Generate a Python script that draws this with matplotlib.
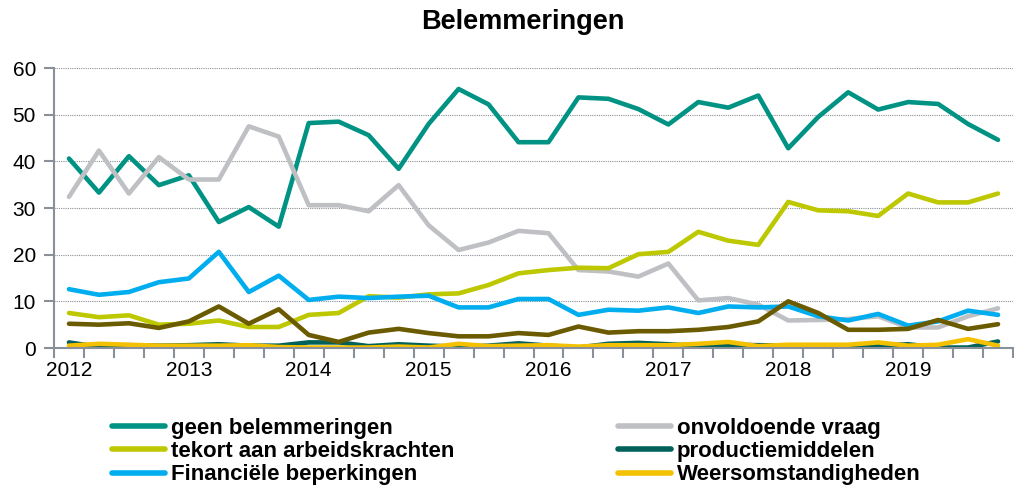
import matplotlib
matplotlib.use("Agg")
import matplotlib.pyplot as plt
import numpy as np

plt.rcParams['font.family'] = ['Liberation Sans', 'DejaVu Sans']

# quarterly values 2012 Q1 .. 2019 Q4
years = ['2012', '2013', '2014', '2015', '2016', '2017', '2018', '2019']

geen = [40.6, 33.3, 41.1, 34.9, 37.0, 27.0, 30.2, 26.0, 48.2, 48.5, 45.6,
        38.4, 48.0, 55.5, 52.2, 44.1, 44.1, 53.7, 53.4, 51.2, 47.9, 52.7,
        51.5, 54.1, 42.8, 49.5, 54.8, 51.1, 52.7, 52.3, 48.0, 44.6]
vraag = [32.4, 42.3, 33.1, 40.9, 36.1, 36.1, 47.5, 45.3, 30.6, 30.6, 29.3,
         34.9, 26.3, 21.0, 22.6, 25.1, 24.6, 16.7, 16.4, 15.3, 18.1, 10.2,
         10.7, 9.3, 5.9, 6.0, 6.2, 6.8, 4.4, 4.4, 6.8, 8.5]
tekort = [7.5, 6.6, 7.0, 5.0, 5.2, 5.9, 4.5, 4.5, 7.1, 7.5, 11.1,
          10.8, 11.5, 11.7, 13.5, 16.0, 16.7, 17.2, 17.1, 20.1, 20.6, 24.9,
          23.0, 22.1, 31.3, 29.5, 29.3, 28.3, 33.1, 31.2, 31.2, 33.1]
productie = [1.2, 0.2, 0.6, 0.5, 0.6, 0.8, 0.5, 0.5, 1.2, 1.2, 0.4,
             0.8, 0.5, 0.3, 0.5, 1.0, 0.5, 0.1, 0.9, 1.1, 0.8, 0.5,
             0.7, 0.6, 0.5, 0.5, 0.3, 0.5, 0.8, 0.1, 0.1, 1.4]
financieel = [12.6, 11.4, 12.0, 14.1, 14.9, 20.6, 12.0, 15.5, 10.3, 11.0, 10.7,
              11.0, 11.2, 8.7, 8.7, 10.5, 10.5, 7.1, 8.2, 8.0, 8.7, 7.5,
              8.9, 8.7, 8.9, 6.8, 5.9, 7.3, 4.8, 5.7, 8.0, 7.1]
overig = [5.2, 5.0, 5.3, 4.3, 5.7, 8.9, 5.2, 8.3, 2.8, 1.3, 3.3,
          4.1, 3.2, 2.5, 2.5, 3.2, 2.8, 4.6, 3.3, 3.6, 3.6, 3.9,
          4.5, 5.7, 10.0, 7.5, 3.9, 3.9, 4.1, 6.0, 4.1, 5.1]
weer = [0.5, 0.9, 0.7, 0.5, 0.5, 0.5, 0.6, 0.2, 0.1, 0.1, 0.1,
        0.3, 0.1, 0.9, 0.4, 0.5, 0.6, 0.3, 0.6, 0.6, 0.6, 0.9,
        1.3, 0.4, 0.7, 0.7, 0.7, 1.2, 0.5, 0.7, 1.9, 0.5]

x = np.arange(len(geen))

fig = plt.figure(figsize=(10.14, 4.88), dpi=100)
ax = fig.add_axes([54 / 1014, 1 - 348 / 488, 959 / 1014, 280 / 488])

lw = 3.3
kw = dict(lw=lw, solid_capstyle='round', solid_joinstyle='round')
l_geen, = ax.plot(x, geen, color='#009384', label='geen belemmeringen', **kw)
l_vraag, = ax.plot(x, vraag, color='#BEC0C4', label='onvoldoende vraag', **kw)
l_tekort, = ax.plot(x, tekort, color='#BDC800', label='tekort aan arbeidskrachten', **kw)
l_prod, = ax.plot(x, productie, color='#00615A', label='productiemiddelen', **kw)
l_fin, = ax.plot(x, financieel, color='#00AEEF', label='Financiële beperkingen', **kw)
ax.plot(x, overig, color='#6B5B00', **kw)
l_weer, = ax.plot(x, weer, color='#F4C100', label='Weersomstandigheden', **kw)

ax.set_xlim(-0.5, len(x) - 0.5)
ax.set_ylim(0, 60)
ax.set_yticks(range(0, 61, 10))
ax.set_xticks(np.arange(0, len(x), 4))
ax.set_xticklabels(years)
ax.set_xticks(np.arange(-0.5, len(x), 1), minor=True)

ax.grid(axis='y', linestyle=(0, (1, 1)), color='#8A9099', lw=0.8)
ax.set_axisbelow(True)
for s in ['top', 'right']:
    ax.spines[s].set_visible(False)
for s in ['left', 'bottom']:
    ax.spines[s].set_color('#8A9099')
    ax.spines[s].set_linewidth(1.5)

ax.tick_params(axis='y', length=7, width=1.5, color='#8A9099', labelsize=15, pad=6)
ax.tick_params(axis='x', which='major', length=0, labelsize=15, pad=9)
ax.tick_params(axis='x', which='minor', length=7, width=1.5, color='#8A9099')

fig.text(523 / 1014, 1 - 22 / 488, 'Belemmeringen', ha='center', va='center',
         fontsize=19.5, fontweight='bold')

lg_kw = dict(loc='upper left', frameon=False, borderpad=0, borderaxespad=0,
             handlelength=2.4, handletextpad=0.25, labelspacing=0.1,
             prop={'weight': 'bold', 'size': 16})
leg1 = fig.legend(handles=[l_geen, l_tekort, l_fin],
                  bbox_to_anchor=(112 / 1014, 1 - 418 / 488), **lg_kw)
leg2 = fig.legend(handles=[l_vraag, l_prod, l_weer],
                  bbox_to_anchor=(618 / 1014, 1 - 418 / 488), **lg_kw)
for leg in (leg1, leg2):
    for h in leg.legend_handles:
        h.set_linewidth(4)

fig.savefig('out.png', dpi=100)
